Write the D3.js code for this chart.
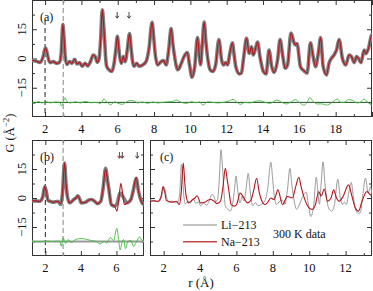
<!DOCTYPE html>
<html><head><meta charset="utf-8">
<script src="https://cdn.jsdelivr.net/npm/d3@7"></script>
<style>
body{margin:0;background:#fff}
svg{display:block}
text{font-family:"Liberation Serif","Times New Roman",serif;fill:#111}
</style>
</head><body><svg id="chart" width="373" height="291"></svg>
<script>
// ---------- DATA ----------
// Li-213, 300 K (panel a data/fit, panel c grey)
const liR = [1.20,1.45,1.72,1.88,2.02,2.12,2.20,2.28,2.45,2.65,2.78,2.88,2.98,3.06,3.11,3.20,3.35,3.48,3.63,3.76,3.90,4.04,4.20,4.35,4.50,4.65,4.76,4.87,4.97,5.06,5.15,5.22,5.28,5.33,5.39,5.52,5.67,5.80,5.90,5.98,6.05,6.11,6.20,6.31,6.41,6.52,6.65,6.74,6.81,6.90,7.05,7.18,7.37,7.56,7.72,7.89,7.98,8.06,8.20,8.39,8.52,8.67,8.80,8.94,9.03,9.13,9.31,9.50,9.65,9.83,9.95,10.09,10.24,10.39,10.47,10.56,10.66,10.76,10.86,10.98,11.09,11.24,11.39,11.57,11.72,11.83,11.94,12.04,12.18,12.31,12.42,12.50,12.69,12.81,12.94,13.09,13.24,13.37,13.46,13.58,13.70,13.83,14.02,14.17,14.33,14.48,14.61,14.80,14.94,15.09,15.22,15.35,15.54,15.69,15.78,15.87,16.06,16.24,16.43,16.61,16.76,16.89,17.05,17.17,17.31,17.50,17.63,17.76,17.91,18.05,18.19,18.37,18.56,18.74,18.87,19.02,19.15,19.26,19.39,19.57,19.67,19.80,20.00,20.17];
const liG = [-1.0,-1.2,-2.0,0.5,5.5,2.5,-0.8,-2.1,-1.6,-2.5,-2.1,2.0,17.5,8.0,1.0,-3.0,-1.6,-2.5,-0.4,-2.8,-2.1,-4.0,-2.5,-3.8,-1.6,1.8,1.0,-2.0,-0.2,10.0,25.0,18.0,9.4,1.0,-4.0,-5.8,-6.7,-2.5,5.0,11.4,6.0,1.0,-2.5,1.0,-1.6,4.0,12.8,5.0,-1.0,-4.0,-2.4,-4.0,-3.3,-1.6,5.0,18.6,11.0,2.6,-3.3,-1.6,-1.1,-3.3,4.0,15.3,8.0,1.0,-5.8,-2.5,1.0,3.1,-3.0,-9.6,-4.2,10.8,4.0,-3.2,8.0,18.7,8.0,-1.5,-5.8,-6.7,-3.3,9.7,-0.8,-3.3,-2.1,-3.3,3.0,8.0,1.0,-4.2,-7.9,-7.5,1.0,10.3,2.6,6.0,1.8,5.0,8.5,1.0,-6.7,-7.9,4.3,-4.2,-7.2,-0.8,9.7,1.0,-5.0,-3.3,13.1,8.6,6.9,7.7,-4.2,-6.2,-7.5,8.0,1.0,-4.2,3.0,10.8,-4.2,-8.4,-2.5,0.0,1.8,4.5,9.7,0.0,-3.3,1.8,1.0,-2.1,1.0,0.0,-2.1,4.3,2.5,5.0,12.3,2.6];

// Li-213 difference curve (panel a)
const diffAR = [1.26,1.45,1.63,1.81,2.09,2.28,2.56,2.80,2.91,2.98,3.09,3.20,3.39,3.67,3.94,4.22,4.50,4.87,5.06,5.24,5.43,5.61,5.83,6.02,6.26,6.44,6.69,6.91,7.09,7.37,7.65,7.93,8.20,8.48,8.76,9.04,9.22,9.50,9.78,10.06,10.33,10.50,10.69,10.96,11.24,11.52,11.80,12.07,12.35,12.57,12.76,13.00,13.28,13.56,13.83,14.11,14.39,14.76,15.04,15.28,15.50,15.78,16.02,16.24,16.43,16.57,16.76,16.98,17.26,17.50,17.76,18.09,18.28,18.46,18.69,18.93,19.17,19.35,19.57,19.76,20.04,20.22];
const diffAG = [0.3,-0.5,0.5,-0.3,0.3,-0.3,0.2,0.0,-1.8,-0.5,2.4,0.5,-0.3,0.3,-0.3,0.5,-0.2,0.0,-0.7,1.7,0.0,-1.2,0.3,-0.5,-1.0,0.0,1.0,0.7,-0.3,0.2,-0.5,0.2,-0.3,0.0,0.3,0.5,1.2,0.0,-0.5,0.3,-0.2,0.2,-1.4,0.3,0.0,-0.3,0.0,0.5,1.5,0.0,-1.0,0.0,-0.3,0.5,0.8,0.0,-0.5,1.2,0.0,-0.8,0.0,1.4,-0.2,-1.4,0.0,2.4,0.5,-0.8,-0.8,-1.4,-0.3,1.7,0.0,0.0,1.4,1.0,-0.3,0.0,1.7,0.0,-1.4,0.0];

// Na-213, 300 K (panel b data, panel c red)
const naR = [1.21,1.45,1.68,1.85,1.97,2.06,2.15,2.30,2.43,2.71,2.86,2.96,3.08,3.16,3.24,3.37,3.60,3.72,3.83,3.95,4.01,4.26,4.45,4.58,4.75,4.93,5.12,5.25,5.39,5.50,5.58,5.71,5.90,6.03,6.20,6.35,6.60,6.80,6.95,7.11,7.25,7.40,7.54,7.70,7.89,8.07,8.28,8.53,8.80,9.08,9.26,9.43,9.55,9.70,9.98,10.16,10.34,10.52,10.65,10.83,11.00,11.20,11.34,11.50,11.64,11.86,12.16,12.35,12.53,12.71,12.90,13.17,13.35,13.50];
const naG = [-1.7,-1.5,-1.7,0.5,5.9,3.0,-1.2,-1.8,-2.2,-1.7,-3.4,2.0,18.1,8.0,0.8,-2.5,-0.8,0.0,1.2,-1.0,-2.5,-2.2,-1.0,-0.8,-1.5,-2.9,-1.7,5.0,15.3,9.0,4.2,-3.4,-4.2,-3.0,2.5,1.0,-2.5,-1.0,4.0,10.2,3.0,-1.7,-3.4,-2.5,0.0,-0.8,4.2,-3.4,0.8,0.0,6.0,10.7,6.0,0.8,-5.0,-5.9,-3.4,3.4,1.0,4.6,-1.7,0.0,4.2,0.0,-1.7,0.8,6.8,0.8,-5.0,-6.8,-1.7,3.4,1.7,0.5];

// Na-213 fit (panel b)
const naFitR = [1.21,1.45,1.68,1.85,1.97,2.06,2.15,2.30,2.43,2.71,2.86,2.96,3.08,3.16,3.24,3.37,3.60,3.72,3.83,3.95,4.01,4.26,4.45,4.58,4.75,4.93,5.12,5.25,5.39,5.50,5.58,5.71,5.90,6.03,6.15,6.25,6.35,6.45,6.60,6.80,6.95,7.11,7.25,7.40,7.54];
const naFitG = [-1.5,-1.5,-1.7,0.5,5.9,3.0,-1.2,-1.8,-2.2,-1.7,-2.8,2.0,18.1,8.0,0.8,-2.5,-0.8,0.0,1.2,-1.0,-2.5,-2.2,-1.0,-0.8,-1.5,-2.9,-1.7,5.0,15.0,9.0,4.2,-3.4,-4.2,-6.8,1.0,7.6,2.0,-3.4,-2.5,-1.0,4.0,10.6,3.0,-1.7,-3.4];

// Na-213 difference curve (panel b)
const diffBR = [1.21,1.68,2.06,2.43,2.81,2.90,3.00,3.14,3.27,3.46,3.74,4.02,4.30,4.58,4.87,5.05,5.33,5.46,5.65,5.84,6.02,6.12,6.21,6.32,6.40,6.51,6.64,6.83,6.96,7.11,7.30,7.45,7.55];
const diffBG = [0.2,-0.2,0.2,0.0,0.2,-2.5,1.9,-1.0,1.0,-0.5,1.2,1.5,1.2,0.5,0.0,-1.2,0.0,-0.8,2.0,0.5,6.8,1.0,-4.4,0.0,1.0,-3.7,0.0,0.5,-2.5,-0.5,2.4,0.5,1.0];

// arrow markers (r positions)
const arrowsA = [5.97, 6.62];
const arrowsB = [6.17, 6.33, 7.17];

const diffOffset = -22.5;
const yTickVals = [-22.5,-15,-7.5,0,7.5,15,22.5];
const yTickLabels = [-15,0,15];
const xLabelsA = [2,4,6,8,10,12,14,16,18];
const xLabelsB = [2,4,6];
const xLabelsC = [2,4,6,8,10,12];
const legendNames = ["Li\u2212213","Na\u2212213"];
const noteText = "300 K data";

// ---------- DRAW ----------
const svg = d3.select("#chart");
const C = {grey:"#808080", red:"#b3141c", green:"#3dbb3d", frame:"#333"};
const fmt = v => (v<0?"\u2212":"")+Math.abs(v);

function panel(id, x0, x1, y0, y1, dom, labels, showY){
  const x = d3.scaleLinear().domain(dom).range([x0,x1]);
  const y = d3.scaleLinear().domain([-30,30]).range([y1,y0]);
  const g = svg.append("g");
  svg.append("clipPath").attr("id","clip"+id).append("rect")
     .attr("x",x0).attr("y",y0).attr("width",x1-x0).attr("height",y1-y0);
  const ints = d3.range(Math.ceil(dom[0]), Math.floor(dom[1])+1);
  const ev = ints.filter(d=>d%2===0), od = ints.filter(d=>d%2!==0);
  const tk = (axis, vals, len, tr) => g.append("g").attr("transform",tr)
     .call(axis.tickValues(vals).tickSize(-len).tickFormat("").tickSizeOuter(0))
     .call(s=>{s.select(".domain").remove(); s.selectAll("line").attr("stroke",C.frame);});
  tk(d3.axisBottom(x), ev, 5, `translate(0,${y1})`);
  tk(d3.axisBottom(x), od, 3, `translate(0,${y1})`);
  tk(d3.axisTop(x), ev, 5, `translate(0,${y0})`);
  tk(d3.axisTop(x), od, 3, `translate(0,${y0})`);
  const ymaj = yTickVals.filter(v=>v%15===0), ymin = yTickVals.filter(v=>v%15!==0);
  tk(d3.axisLeft(y), ymaj, 5, `translate(${x0},0)`);
  tk(d3.axisLeft(y), ymin, 3, `translate(${x0},0)`);
  tk(d3.axisRight(y), ymaj, 5, `translate(${x1},0)`);
  tk(d3.axisRight(y), ymin, 3, `translate(${x1},0)`);
  g.append("rect").attr("x",x0+0.5).attr("y",y0+0.5).attr("width",x1-x0-1).attr("height",y1-y0-1)
    .attr("fill","none").attr("stroke",C.frame).attr("stroke-width",1);
  g.selectAll(".xl").data(labels).enter().append("text")
    .attr("x",d=>x(d)).attr("y",y1+16).attr("text-anchor","middle").attr("font-size",12.5).text(d=>d);
  if(showY){
    g.selectAll(".yl").data(yTickLabels).enter().append("text")
      .attr("transform",d=>`translate(${x0-6},${y(d)}) rotate(-90)`)
      .attr("text-anchor","middle").attr("font-size",12.5).text(fmt);
  }
  const plot = svg.append("g").attr("clip-path",`url(#clip${id})`);
  return {x,y,plot,g};
}

const line = (x,y,off=0) => d3.line().x(d=>x(d[0])).y(d=>y(d[1]+off)).curve(d3.curveMonotoneX);
const zip = (a,b) => a.map((v,i)=>[v,b[i]]);
function arrow(g, cx, ytop, color){
  g.append("path").attr("d",`M${cx},${ytop}V${ytop+6}M${cx-1.8},${ytop+3.8}L${cx},${ytop+6.3}L${cx+1.8},${ytop+3.8}`)
    .attr("fill","none").attr("stroke",color).attr("stroke-width",0.9);
}

// Panel (a)
{
  const {x,y,plot,g} = panel("a", 32, 372, 0, 117, [1.28,20.0], xLabelsA, true);
  plot.append("line").attr("x1",x(2)).attr("x2",x(2)).attr("y1",20).attr("y2",117)
    .attr("stroke","#222").attr("stroke-dasharray","5,3");
  plot.append("line").attr("x1",x(3)).attr("x2",x(3)).attr("y1",0).attr("y2",117)
    .attr("stroke","#999").attr("stroke-dasharray","5,3").attr("stroke-width",1.2);
  plot.append("line").attr("x1",32).attr("x2",372).attr("y1",y(diffOffset)).attr("y2",y(diffOffset))
    .attr("stroke","#1f4f1f").attr("stroke-width",1);
  plot.append("path").attr("d",line(x,y,diffOffset)(zip(diffAR,diffAG)))
    .attr("fill","none").attr("stroke",C.green).attr("stroke-width",0.9);
  plot.append("path").attr("d",line(x,y)(zip(liR,liG)))
    .attr("fill","none").attr("stroke",C.grey).attr("stroke-width",3.6).attr("stroke-linejoin","round");
  plot.append("path").attr("d",line(x,y)(zip(liR,liG)))
    .attr("fill","none").attr("stroke",C.red).attr("stroke-width",1.1);
  g.append("text").attr("x",40).attr("y",21).attr("font-size",12).text("(a)");
  arrowsA.forEach(r=>arrow(g, x(r), 12, "#333"));
}

// Panel (b)
{
  const {x,y,plot,g} = panel("b", 32, 144, 140, 256, [1.25,7.55], xLabelsB, true);
  plot.append("line").attr("x1",x(2)).attr("x2",x(2)).attr("y1",160).attr("y2",256)
    .attr("stroke","#222").attr("stroke-dasharray","5,3");
  plot.append("line").attr("x1",x(3)).attr("x2",x(3)).attr("y1",140).attr("y2",256)
    .attr("stroke","#999").attr("stroke-dasharray","5,3").attr("stroke-width",1.2);
  plot.append("line").attr("x1",32).attr("x2",144).attr("y1",y(diffOffset)).attr("y2",y(diffOffset))
    .attr("stroke","#999").attr("stroke-width",2);
  plot.append("path").attr("d",line(x,y,diffOffset)(zip(diffBR,diffBG)))
    .attr("fill","none").attr("stroke",C.green).attr("stroke-width",0.9);
  plot.append("path").attr("d",line(x,y)(zip(naR,naG)))
    .attr("fill","none").attr("stroke",C.grey).attr("stroke-width",3.6).attr("stroke-linejoin","round");
  plot.append("path").attr("d",line(x,y)(zip(naFitR,naFitG)))
    .attr("fill","none").attr("stroke",C.red).attr("stroke-width",1.1);
  g.append("text").attr("x",40).attr("y",161).attr("font-size",12).text("(b)");
  arrowsB.forEach((r,i)=>arrow(g, x(r), 152, i===0?C.red:"#333"));
}

// Panel (c)
{
  const {x,y,plot,g} = panel("c", 150, 372, 140, 256, [1.25,13.45], xLabelsC, false);
  plot.append("path").attr("d",line(x,y)(zip(liR,liG)))
    .attr("fill","none").attr("stroke","#9a9a9a").attr("stroke-width",1);
  plot.append("path").attr("d",line(x,y)(zip(naR,naG)))
    .attr("fill","none").attr("stroke",C.red).attr("stroke-width",1.1);
  g.append("text").attr("x",160).attr("y",161).attr("font-size",12).text("(c)");
  const lc = ["#b0b0b0","#c04848"];
  legendNames.forEach((n,i)=>{
    const yy = 225 + i*16.7;
    g.append("line").attr("x1",183).attr("x2",217).attr("y1",yy).attr("y2",yy)
      .attr("stroke",lc[i]).attr("stroke-width",1.6);
    g.append("text").attr("x",221).attr("y",yy+4).attr("font-size",12).text(n);
  });
  g.append("text").attr("x",273).attr("y",238).attr("font-size",12).text(noteText);
}

// Axis titles
svg.append("text").attr("x",201).attr("y",287).attr("text-anchor","middle").attr("font-size",13)
  .text("r (\u00c5)");
const yt = svg.append("text").attr("transform","translate(14,133) rotate(-90)")
  .attr("text-anchor","middle").attr("font-size",12.5);
yt.append("tspan").text("G (\u00c5");
yt.append("tspan").attr("dy",-5).attr("font-size",9).text("\u22122");
yt.append("tspan").attr("dy",5).text(")");
</script>
</body></html>
